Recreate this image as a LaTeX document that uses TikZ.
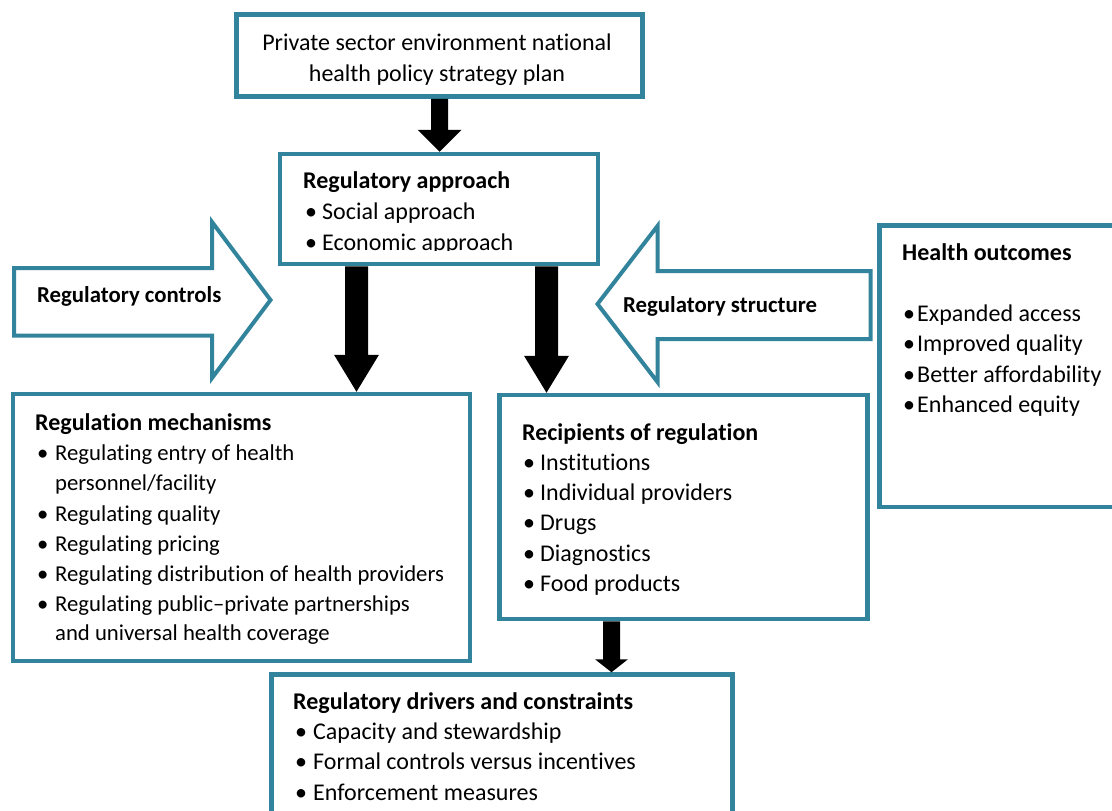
\documentclass[tikz,border=0pt]{standalone}
\usepackage{fontspec}
\setmainfont{Carlito}[Ligatures={NoCommon}]
\usetikzlibrary{calc}
\definecolor{boxteal}{HTML}{31849B}
\tikzset{
  box/.style={draw=boxteal, line width=4.5pt, fill=white, inner sep=0pt},
  blockarrow/.style={draw=boxteal, line width=4pt, fill=white, line join=miter},
  txt/.style={anchor=base west, inner sep=0pt, font=\fontsize{24}{29}\selectfont},
  stxt/.style={txt, font=\fontsize{22.7}{28}\selectfont},
  ctxt/.style={txt, anchor=base},
  ttl/.style={txt, font=\fontsize{24}{29}\selectfont\bfseries},
  arrtxt/.style={txt, font=\fontsize{22.8}{27}\selectfont\bfseries},
}
\newcommand\bl[2]{\makebox[#1][l]{\textbullet}#2}
\newcommand\blockarr[5]{%
  \fill let \p1=#1, \p2=#2 in
    (\x1-#3,\y1) -- (\x1-#3,\y2+#5) -- (\x1-#4,\y2+#5) -- (\x1,\y2)
    -- (\x1+#4,\y2+#5) -- (\x1+#3,\y2+#5) -- (\x1+#3,\y1) -- cycle;}
\begin{document}
\begin{tikzpicture}[x=1pt,y=-1pt]
\useasboundingbox (0,0) rectangle (1112,811);
\clip (0,0) rectangle (1112,811);

% boxes
\node[box, minimum width=406pt, minimum height=82pt] (top) at (439.5,55.5) {};
\node[box, minimum width=318pt, minimum height=110pt] (app) at (439,209) {};
\node[box, minimum width=457pt, minimum height=267pt] (mech) at (241.5,527.5) {};
\node[box, minimum width=368pt, minimum height=224pt] (rec) at (683.5,507) {};
\node[box, minimum width=320pt, minimum height=281.5pt] (hlth) at (1039.5,366.25) {};
\node[box, minimum width=461pt, minimum height=225pt] (drv) at (502,787) {};

% block arrows
\draw[blockarrow] (14,268) -- (212,268) -- (212,222) -- (270.5,300)
  -- (212,378) -- (212,335.5) -- (14,335.5) -- cycle;
\draw[blockarrow] (870.5,271) -- (657.5,271) -- (657.5,226) -- (597.5,304)
  -- (657.5,382) -- (657.5,339) -- (870.5,339) -- cycle;
\node[arrtxt] (ctl) at (37,302) {Regulatory controls};
\node[arrtxt] (str) at (623,312) {Regulatory structure};

% top box text
\node[ctxt] (t1) at (437,50) {Private sector environment national};
\node[ctxt] (t2) at (437,81) {health policy strategy plan};

% regulatory approach
\node[ttl] (a0) at (303,188) {Regulatory approach};
\node[txt] (a1) at (305,219) {\bl{17pt}{Social approach}};
\begin{scope}
\clip (285,200) rectangle (595,250.5);
\node[txt] (a2) at (305,250) {\bl{17pt}{Economic approach}};
\end{scope}

% regulation mechanisms
\node[ttl] (m0) at (35,430) {Regulation mechanisms};
\node[stxt] (m1) at (37,460.5) {\bl{18pt}{Regulating entry of health}};
\node[stxt] (m1b) at (55,490.5) {personnel/facility};
\node[stxt] (m2) at (37,521) {\bl{18pt}{Regulating quality}};
\node[stxt] (m3) at (37,551.5) {\bl{18pt}{Regulating pricing}};
\node[stxt] (m4) at (37,581.5) {\bl{18pt}{Regulating distribution of health providers}};
\node[stxt] (m5) at (37,611.5) {\bl{18pt}{Regulating public--private partnerships}};
\node[stxt] (m5b) at (55,640) {and universal health coverage};

% recipients
\node[ttl] (r0) at (522,440) {Recipients of regulation};
\node[txt] (r1) at (523,470) {\bl{17pt}{Institutions}};
\node[txt] (r2) at (523,500) {\bl{17pt}{Individual providers}};
\node[txt] (r3) at (523,530.5) {\bl{17pt}{Drugs}};
\node[txt] (r4) at (523,561) {\bl{17pt}{Diagnostics}};
\node[txt] (r5) at (523,591) {\bl{17pt}{Food products}};

% health outcomes
\node[ttl] (h0) at (902,260) {Health outcomes};
\node[txt] (h1) at (903,321) {\bl{14pt}{Expanded access}};
\node[txt] (h2) at (903,351.5) {\bl{14pt}{Improved quality}};
\node[txt] (h3) at (903,382) {\bl{14pt}{Better affordability}};
\node[txt] (h4) at (903,412.5) {\bl{14pt}{Enhanced equity}};

% drivers
\node[ttl] (d0) at (293,709) {Regulatory drivers and constraints};
\node[txt] (d1) at (295,739) {\bl{18pt}{Capacity and stewardship}};
\node[txt] (d2) at (295,769.5) {\bl{18pt}{Formal controls versus incentives}};
\node[txt] (d3) at (295,800) {\bl{18pt}{Enforcement measures}};

% black arrows
\blockarr{(top.south)}{(top.south |- app.north)}{8.5pt}{22pt}{22pt}
\blockarr{([xshift=-82.5pt]app.south)}{([xshift=-82.5pt]app.south |- mech.north)}{11.5pt}{22.5pt}{37pt}
\blockarr{([xshift=107.5pt]app.south)}{([xshift=107.5pt]app.south |- rec.north)}{11.5pt}{22.5pt}{37pt}
\blockarr{([xshift=-72pt]rec.south)}{([xshift=-72pt]rec.south |- drv.north)}{8.5pt}{16.5pt}{13pt}
\end{tikzpicture}
\end{document}
